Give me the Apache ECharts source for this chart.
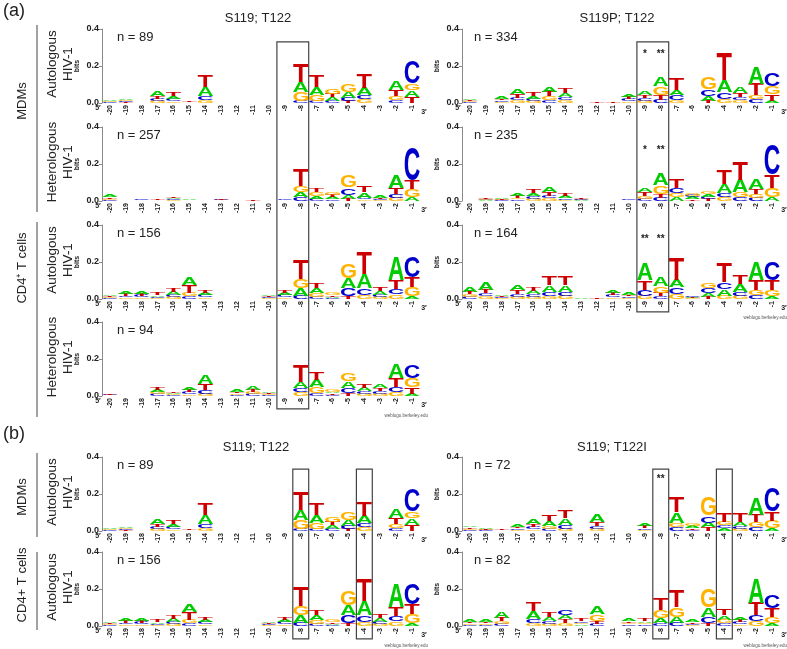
<!DOCTYPE html>
<html><head><meta charset="utf-8">
<script src="https://cdn.jsdelivr.net/npm/echarts@6/dist/echarts.min.js"></script>
<style>html,body{margin:0;padding:0;background:#fff}#c{width:787px;height:649px}</style>
</head><body><div id="c"></div>
<script>
// ---------------- DATA ----------------
const positions = ['-20','-19','-18','-17','-16','-15','-14','-13','-12','-11','-10','-9','-8','-7','-6','-5','-4','-3','-2','-1'];
const letters = ['A','C','G','T'];
// Each entry: bits of [A, C, G, T] at positions -20 ... -1

// MDMs, autologous HIV-1, S119; T122 (n = 89)
const mdmAutoT122 = [
 [0.006,0.004,0.004,0.002],[0.008,0.005,0.005,0.004],[0,0,0,0],[0.027,0.011,0.010,0.014],
 [0.016,0.012,0.008,0.018],[0.001,0.001,0.001,0.004],[0.048,0.023,0.016,0.062],[0,0,0,0],
 [0,0,0,0],[0,0,0,0],[0,0,0,0],[0,0,0,0],
 [0.052,0.012,0.048,0.098],[0.043,0.010,0.032,0.062],[0.018,0.012,0.027,0.020],[0.032,0.018,0.045,0.010],
 [0.040,0.021,0.020,0.077],[0,0,0,0],[0.050,0.014,0.023,0.032],[0.035,0.120,0.037,0.032]
];
// MDMs, heterologous HIV-1, S119; T122 (n = 257)
const mdmHeteroT122 = [
 [0.012,0.005,0.005,0.009],[0.001,0.001,0.001,0.002],[0.002,0.005,0.001,0.001],[0.001,0.001,0.002,0.003],
 [0.006,0.005,0.004,0.008],[0.004,0.001,0.001,0.001],[0,0,0,0],[0.002,0.003,0.001,0.004],
 [0,0,0,0],[0,0,0,0.004],[0,0,0,0],[0.001,0.004,0.001,0.001],
 [0.030,0.020,0.032,0.088],[0.016,0.012,0.018,0.022],[0.011,0.009,0.015,0.012],[0.022,0.038,0.060,0.012],
 [0.030,0.010,0.008,0.036],[0.012,0.006,0.004,0.008],[0.070,0.020,0.018,0.034],[0.020,0.178,0.044,0.046]
];
// CD4+ T cells, autologous HIV-1, S119; T122 (n = 156)
const cd4AutoT122 = [
 [0.007,0.005,0.005,0.005],[0.013,0.009,0.008,0.010],[0.014,0.010,0.008,0.011],[0.008,0.007,0.005,0.010],
 [0.018,0.012,0.010,0.021],[0.043,0.016,0.018,0.041],[0.013,0.010,0.009,0.014],[0,0,0,0],
 [0,0,0,0],[0,0,0,0],[0.008,0.006,0.005,0.007],[0.013,0.011,0.008,0.014],
 [0.040,0.018,0.050,0.104],[0.027,0.013,0.020,0.028],[0.007,0.005,0.010,0.008],[0.052,0.043,0.075,0.016],
 [0.075,0.036,0.022,0.120],[0.017,0.014,0.010,0.020],[0.125,0.028,0.024,0.048],[0.014,0.116,0.050,0.054]
];
// CD4+ T cells, heterologous HIV-1, S119; T122 (n = 94)
const cd4HeteroT122 = [
 [0.002,0.004,0.002,0.006],[0,0,0,0],[0,0,0,0],[0.013,0.010,0.011,0.014],
 [0.006,0.005,0.005,0.007],[0.015,0.010,0.009,0.012],[0.045,0.018,0.012,0.036],[0,0,0,0],
 [0.010,0.007,0.007,0.008],[0.017,0.010,0.010,0.013],[0.007,0.005,0.005,0.006],[0,0,0,0],
 [0.032,0.024,0.020,0.090],[0.038,0.014,0.035,0.040],[0.008,0.007,0.010,0.007],[0.034,0.030,0.043,0.014],
 [0.017,0.014,0.011,0.020],[0.022,0.014,0.012,0.016],[0.075,0.030,0.020,0.045],[0.010,0.071,0.048,0.036]
];
// MDMs, autologous HIV-1, S119P; T122 (n = 334)
const mdmAutoS119P = [
 [0.007,0.005,0.005,0.006],[0,0,0,0],[0.010,0.008,0.006,0.008],[0.024,0.015,0.014,0.018],
 [0.015,0.012,0.010,0.017],[0.030,0.017,0.018,0.024],[0.022,0.016,0.014,0.025],[0,0,0,0],
 [0,0,0,0.004],[0,0,0,0.003],[0.015,0.012,0.009,0.012],[0.018,0.014,0.011,0.016],
 [0.050,0.018,0.045,0.027],[0.030,0.028,0.014,0.065],[0,0,0,0],[0.027,0.038,0.060,0.012],
 [0.063,0.038,0.022,0.148],[0.032,0.016,0.014,0.023],[0.090,0.020,0.024,0.060],[0.012,0.071,0.045,0.036]
];
// MDMs, heterologous HIV-1, S119P; T122 (n = 235)
const mdmHeteroS119P = [
 [0,0,0,0],[0.003,0.003,0.003,0.005],[0.005,0.003,0.003,0.003],[0.012,0.009,0.009,0.011],
 [0.016,0.013,0.012,0.018],[0.024,0.015,0.014,0.020],[0.010,0.008,0.007,0.011],[0.003,0.004,0.003,0.004],
 [0,0,0,0],[0,0,0,0],[0.001,0.005,0.001,0.001],[0.022,0.012,0.015,0.020],
 [0.065,0.018,0.045,0.021],[0.020,0.028,0.022,0.050],[0.010,0.010,0.012,0.009],[0.013,0.012,0.014,0.011],
 [0.048,0.021,0.020,0.078],[0.066,0.021,0.027,0.095],[0.055,0.018,0.018,0.027],[0.018,0.160,0.052,0.071]
];
// CD4+ T cells, autologous HIV-1, S119P; T122 (n = 164)
const cd4AutoS119P = [
 [0.024,0.012,0.014,0.014],[0.041,0.016,0.014,0.018],[0.008,0.006,0.005,0.006],[0.027,0.016,0.013,0.018],
 [0.018,0.014,0.012,0.021],[0.036,0.021,0.016,0.050],[0.034,0.021,0.018,0.050],[0.004,0,0,0],
 [0,0,0,0.005],[0.014,0.010,0.009,0.012],[0.010,0.008,0.007,0.009],[0.094,0.032,0.018,0.050],
 [0.045,0.014,0.036,0.020],[0.041,0.036,0.027,0.115],[0.004,0.005,0.003,0.003],[0.020,0.027,0.030,0.013],
 [0.036,0.038,0.018,0.100],[0.042,0.022,0.018,0.048],[0.098,0.023,0.025,0.054],[0.013,0.098,0.034,0.054]
];
// MDMs, autologous HIV-1, S119; T122I (n = 72)
const mdmAutoT122I = [
 [0.008,0.006,0.006,0.007],[0.005,0.003,0.003,0.003],[0.001,0.001,0.001,0.003],[0.011,0.008,0.007,0.009],
 [0.027,0.012,0.009,0.014],[0.027,0.013,0.013,0.036],[0.036,0.023,0.010,0.042],[0,0,0,0],
 [0.041,0.016,0.010,0.020],[0,0,0,0],[0,0,0,0],[0.011,0.008,0.007,0.010],
 [0,0,0,0],[0.058,0.020,0.022,0.080],[0.010,0.008,0.011,0.009],[0.025,0.038,0.100,0.020],
 [0.015,0.017,0.018,0.045],[0.018,0.016,0.013,0.045],[0.093,0.020,0.027,0.041],[0.016,0.125,0.040,0.050]
];
// CD4+ T cells, autologous HIV-1, S119; T122I (n = 82)
const cd4AutoT122I = [
 [0.010,0.007,0.007,0.008],[0.010,0.007,0.007,0.008],[0.032,0.012,0.014,0.018],[0,0,0,0],
 [0.044,0.022,0.014,0.046],[0.023,0.014,0.012,0.024],[0.023,0.027,0.017,0.019],[0.008,0.009,0.008,0.011],
 [0.040,0.012,0.036,0.014],[0,0,0,0],[0.011,0.008,0.008,0.009],[0.009,0.008,0.008,0.011],
 [0.030,0.014,0.040,0.065],[0.032,0.018,0.050,0.086],[0.010,0.007,0.006,0.007],[0.050,0.036,0.098,0.014],
 [0.023,0.016,0.018,0.036],[0.014,0.010,0.009,0.012],[0.130,0.032,0.025,0.068],[0.014,0.072,0.036,0.045]
];
const yTicks = [0.0, 0.2, 0.4];

// ---------------- LAYOUT / STYLE ----------------
const FF = '"Liberation Sans", Arial, Helvetica, sans-serif';
const COLORS = {A:'#00CC00', C:'#0000CC', G:'#FFB300', T:'#CC0000'};
const COLX = [102, 462];
const PW = 318, PH = 74;
const panels = [
 {data: mdmAutoT122,    col:0, top:29,  n:'n = 89',  row:'Autologous\nHIV-1'},
 {data: mdmHeteroT122,  col:0, top:127, n:'n = 257', row:'Heterologous\nHIV-1'},
 {data: cd4AutoT122,    col:0, top:225, n:'n = 156', row:'Autologous\nHIV-1'},
 {data: cd4HeteroT122,  col:0, top:322, n:'n = 94',  row:'Heterologous\nHIV-1'},
 {data: mdmAutoS119P,   col:1, top:29,  n:'n = 334'},
 {data: mdmHeteroS119P, col:1, top:127, n:'n = 235'},
 {data: cd4AutoS119P,   col:1, top:225, n:'n = 164'},
 {data: mdmAutoT122,    col:0, top:457, n:'n = 89',  row:'Autologous\nHIV-1'},
 {data: cd4AutoT122,    col:0, top:552, n:'n = 156', row:'Autologous\nHIV-1'},
 {data: mdmAutoT122I,   col:1, top:457, n:'n = 72'},
 {data: cd4AutoT122I,   col:1, top:552, n:'n = 82'}
];

// measure ink box of each glyph (relative to anchor, center/middle alignment)
const GLYPH_PX = 100;
const metrics = {};
letters.forEach(L => {
  let m = {l:-36, r:36, t:-40, b:32};
  try {
    const cv = document.createElement('canvas'); cv.width = 240; cv.height = 240;
    const ctx = cv.getContext('2d');
    ctx.font = 'bold ' + GLYPH_PX + 'px ' + FF;
    ctx.textAlign = 'center'; ctx.textBaseline = 'middle'; ctx.fillStyle = '#000';
    ctx.fillText(L, 120, 120);
    const d = ctx.getImageData(0,0,240,240).data;
    let x0=999,x1=-1,y0=999,y1=-1;
    for (let y=0;y<240;y++) for (let x=0;x<240;x++) {
      if (d[(y*240+x)*4+3] > 110) { if(x<x0)x0=x; if(x>x1)x1=x; if(y<y0)y0=y; if(y>y1)y1=y; }
    }
    if (x1 > x0 && y1 > y0) m = {l:x0-120, r:x1+1-120, t:y0-120, b:y1+1-120};
  } catch(e) {}
  metrics[L] = m;
});

function renderLogo(params, api) {
  const idx = api.value(0);
  const vals = [api.value(1), api.value(2), api.value(3), api.value(4)];
  const order = [0,1,2,3].sort((a,b) => vals[a]-vals[b]);
  const bw = api.size([1,0])[0];
  const w = bw * 0.94;
  const cx = api.coord([idx, 0])[0];
  const children = [];
  let cum = 0;
  order.forEach(k => {
    const h = vals[k];
    if (!(h > 0.0004)) { cum += (h||0); return; }
    const yB = api.coord([idx, cum])[1];
    const yT = api.coord([idx, cum + h])[1];
    cum += h;
    const L = letters[k], m = metrics[L];
    const sx = w / (m.r - m.l), sy = (yB - yT) / (m.b - m.t);
    children.push({
      type:'text', silent:true,
      x: cx - w/2 - m.l*sx, y: yT - m.t*sy, scaleX: sx, scaleY: sy,
      style:{text:L, fill:COLORS[L], fontSize:GLYPH_PX, fontFamily:FF, fontWeight:'bold', align:'center', verticalAlign:'middle'}
    });
  });
  return {type:'group', children};
}

const option = {
  animation:false,
  backgroundColor:'#fff',
  grid: panels.map(p => ({left: COLX[p.col], top: p.top, width: PW, height: PH, outerBoundsMode:'none', containLabel:false})),
  xAxis: panels.map((p,i) => ({
    type:'category', gridIndex:i, data: positions, boundaryGap:true,
    axisLine:{show:false}, axisTick:{show:false}, splitLine:{show:false},
    axisLabel:{rotate:90, interval:0, margin:2, fontSize:7, fontWeight:'bold', color:'#222', fontFamily:FF}
  })),
  yAxis: panels.map((p,i) => ({
    type:'value', gridIndex:i, min:0, max:0.4, interval:0.2,
    axisLine:{show:true, lineStyle:{color:'#8a8a8a', width:1}},
    axisTick:{show:true, length:3, lineStyle:{color:'#8a8a8a'}},
    splitLine:{show:false},
    axisLabel:{margin:3, fontSize:9, fontWeight:'bold', color:'#222', fontFamily:FF,
      formatter: v => { const t = yTicks.find(q => Math.abs(q - v) < 1e-6); return t === undefined ? '' : t.toFixed(1); }},
    name:'bits', nameLocation:'middle', nameGap:21, nameRotate:90,
    nameTextStyle:{fontSize:7, fontWeight:'bold', color:'#222', fontFamily:FF}
  })),
  series: panels.map((p,i) => ({
    type:'custom', xAxisIndex:i, yAxisIndex:i, silent:true, clip:false,
    renderItem: renderLogo,
    data: p.data.map((d,k) => [k, d[0], d[1], d[2], d[3]])
  }))
};

const chart = echarts.init(document.getElementById('c'), null, {renderer:'canvas'});
chart.setOption(option);

// ---------------- ANNOTATIONS ----------------
function T(x, y, text, o) {
  o = o || {};
  return {type:'text', x, y, rotation:o.rot||0, silent:true, z:100,
    style:{text, fill:o.color||'#222', fontSize:o.size||13, fontFamily:FF, fontWeight:o.weight||'normal',
      align:o.align||'center', verticalAlign:o.va||'middle', lineHeight:o.lh||undefined}};
}
const g = [];
g.push(T(3, 11, '(a)', {size:18, align:'left'}));
g.push(T(3, 434, '(b)', {size:18, align:'left'}));
g.push(T(258, 18, 'S119; T122', {size:13}));
g.push(T(617, 18, 'S119P; T122', {size:13}));
g.push(T(256, 447, 'S119; T122', {size:13}));
g.push(T(612, 447, 'S119; T122I', {size:13}));

const R90 = Math.PI/2;
g.push(T(22, 101, 'MDMs', {size:13, rot:R90}));
g.push(T(22, 268, 'CD4\u207A T cells', {size:13, rot:R90}));
g.push(T(22, 497, 'MDMs', {size:13, rot:R90}));
g.push(T(22, 585, 'CD4+ T cells', {size:13, rot:R90}));
[[25,212],[222,417],[453,537],[552,630]].forEach(s => {
  g.push({type:'line', silent:true, shape:{x1:37, y1:s[0], x2:37, y2:s[1]}, style:{stroke:'#444', lineWidth:1}});
});

panels.forEach((p,i) => {
  const left = COLX[p.col], zero = p.top + PH;
  g.push(T(left + (p.col ? 12 : 15), p.top + 8, p.n, {size:13, align:'left'}));
  if (p.row) g.push(T(60, p.top + PH/2 - 2, p.row, {size:13.5, rot:R90, lh:16}));
  g.push(T(left - 4, zero + 5, '5\u2032', {size:7, weight:'bold'}));
  g.push(T(left + PW + 4, zero + 9, '3\u2032', {size:7, weight:'bold'}));
});
// weblogo credits
[[428,416],[787,318],[428,646],[787,646]].forEach(c => g.push(T(c[0], c[1], 'weblogo.berkeley.edu', {size:4.5, align:'right', color:'#555'})));

// boxes (from grid g0 at value v0) to (grid g1 at value v1) around category indices
const boxes = [
  {g0:0, v0:0.33, g1:3, v1:-0.07, c0:11, c1:12},
  {g0:4, v0:0.33, g1:6, v1:-0.07, c0:11, c1:12},
  {g0:7, v0:0.335, g1:8, v1:-0.07, c0:12, c1:12},
  {g0:7, v0:0.335, g1:8, v1:-0.07, c0:16, c1:16},
  {g0:9, v0:0.335, g1:10, v1:-0.07, c0:12, c1:12},
  {g0:9, v0:0.335, g1:10, v1:-0.07, c0:16, c1:16}
];
boxes.forEach(b => {
  const pA = chart.convertToPixel({gridIndex:b.g0}, [b.c0, b.v0]);
  const pA2 = chart.convertToPixel({gridIndex:b.g0}, [b.c0 + 1, b.v0]);
  const pB = chart.convertToPixel({gridIndex:b.g1}, [b.c1, b.v1]);
  const bw = pA2[0] - pA[0];
  const x0 = pA[0] - bw/2, x1 = pB[0] + bw/2;
  g.push({type:'rect', silent:true, z:90, shape:{x:x0, y:pA[1], width:x1-x0, height:pB[1]-pA[1]},
    style:{fill:'none', stroke:'#444', lineWidth:1.2}});
});
const stars = [
  {g:4, c:11, v:0.276, s:'*'}, {g:4, c:12, v:0.276, s:'**'},
  {g:5, c:11, v:0.286, s:'*'}, {g:5, c:12, v:0.286, s:'**'},
  {g:6, c:11, v:0.335, s:'**'}, {g:6, c:12, v:0.335, s:'**'},
  {g:9, c:12, v:0.29, s:'**'}
];
stars.forEach(s => {
  const p = chart.convertToPixel({gridIndex:s.g}, [s.c, s.v]);
  g.push(T(p[0], p[1] + 2, s.s, {size:10, weight:'bold'}));
});
chart.setOption({graphic: {elements: g}});
</script>
</body></html>
